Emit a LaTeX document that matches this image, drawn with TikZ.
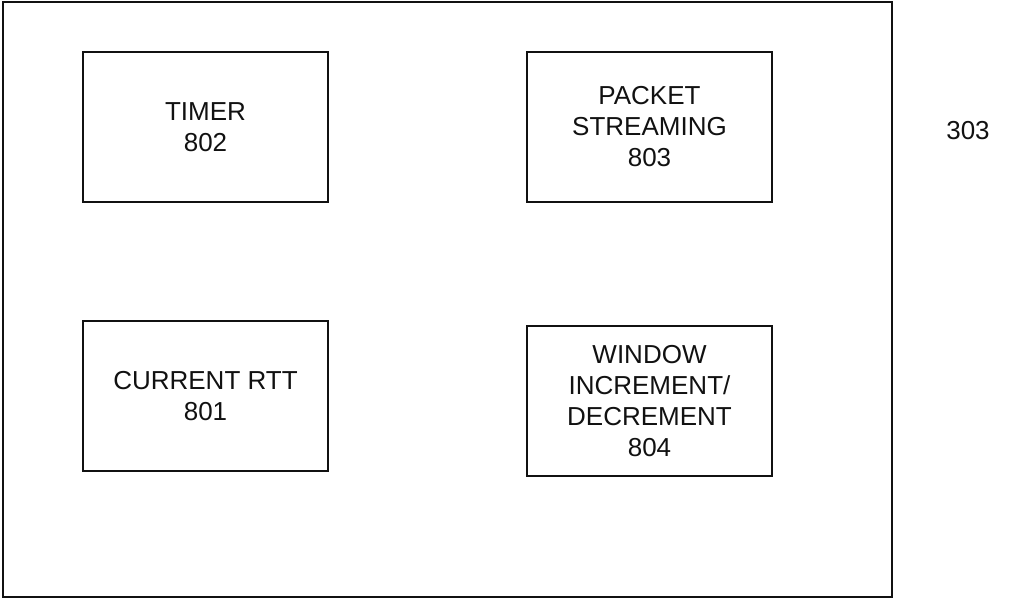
\documentclass[tikz,border=0pt]{standalone}
\usepackage{fontspec}
\setmainfont{Liberation Sans}
\usepackage{tikz}
\usetikzlibrary{positioning}
\definecolor{ink}{HTML}{111111}

\begin{document}
\begin{tikzpicture}[x=0.5pt,y=-0.5pt,
  blk/.style={draw=ink,line width=1pt,minimum width=122.5pt,minimum height=75pt,
    align=center,font=\fontsize{13}{15.5}\selectfont,text=ink,inner sep=0pt}]
  \useasboundingbox (0,0) rectangle (1009,600);
  \draw[ink,line width=1pt] (3,2) rectangle (892,597);
  \node[blk] (timer) at (205.5,127) {TIMER\\802};
  \node[blk] (stream) at (649.5,127) {PACKET\\STREAMING\\803};
  \node[blk] (rtt) at (205.5,396) {CURRENT RTT\\801};
  \node[blk] (window) at (649.5,401) {WINDOW\\INCREMENT/\\DECREMENT\\804};
  \node[font=\fontsize{13}{15.5}\selectfont,text=ink] (ref) at (968,131) {303};
\end{tikzpicture}
\end{document}
